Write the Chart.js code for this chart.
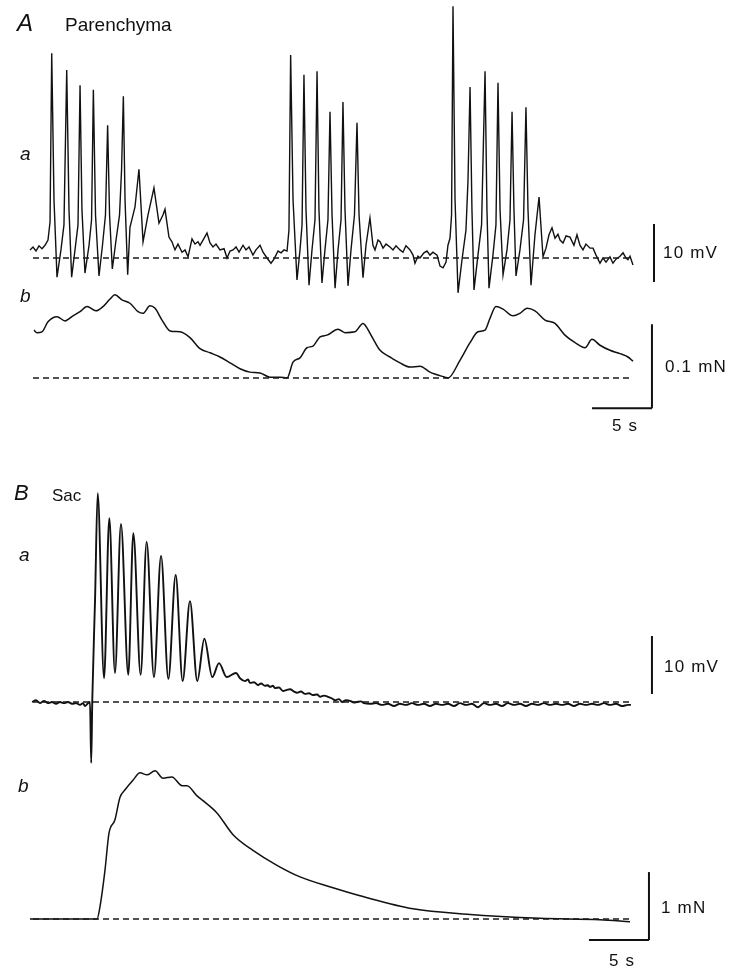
<!DOCTYPE html>
<html>
<head>
<meta charset="utf-8">
<script src="https://cdn.jsdelivr.net/npm/chart.js@4.4.1/dist/chart.umd.min.js"></script>
<style>
  html, body { margin: 0; padding: 0; background: #fff; }
  #wrap { position: relative; width: 737px; height: 977px; overflow: hidden; }
  #fig { position: absolute; left: 0; top: 0; }
  .lbl { position: absolute; font-family: "Liberation Sans", Arial, Helvetica, sans-serif;
         line-height: 1; white-space: nowrap; color: #111; }
  .it { font-style: italic; }
  .unit { font-size: 16px; letter-spacing: 1.2px; }
</style>
</head>
<body>
<div id="wrap">
  <canvas id="fig" width="737" height="977"></canvas>
  <div class="lbl it" style="left:17px;top:11px;font-size:24px">A</div>
  <div class="lbl" style="left:65px;top:15px;font-size:19px">Parenchyma</div>
  <div class="lbl it" style="left:20px;top:144px;font-size:19px">a</div>
  <div class="lbl it" style="left:20px;top:286px;font-size:19px">b</div>
  <div class="lbl unit" style="left:663px;top:244px;font-size:17px">10 mV</div>
  <div class="lbl unit" style="left:665px;top:358px;font-size:17px">0.1 mN</div>
  <div class="lbl unit" style="left:612px;top:417px;font-size:17px">5 s</div>
  <div class="lbl it" style="left:14px;top:482px;font-size:22px">B</div>
  <div class="lbl" style="left:52px;top:487px;font-size:17px">Sac</div>
  <div class="lbl it" style="left:19px;top:545px;font-size:19px">a</div>
  <div class="lbl it" style="left:18px;top:776px;font-size:19px">b</div>
  <div class="lbl unit" style="left:664px;top:658px;font-size:17px">10 mV</div>
  <div class="lbl unit" style="left:661px;top:899px;font-size:17px">1 mN</div>
  <div class="lbl unit" style="left:609px;top:952px;font-size:17px">5 s</div>
</div>
<script>
// Traces: [time (s), value]. Time 0 = start of the A traces.

// A a: parenchyma membrane potential (mV, relative to the dashed resting level)
const parenchymaVm = [
  [-0.25,1.4],[0,1.9],[0.25,1.2],[0.5,2.1],[0.75,1.6],[1.0,2.2],[1.25,3.1],[1.42,6.2],[1.56,35.3],[1.75,10],[2.0,-3.3],
  [2.33,1.4],[2.58,5.7],[2.81,32.4],[3.0,8.3],[3.22,-3.3],
  [3.5,1.4],[3.75,5.7],[3.92,29.8],[4.08,8.3],[4.33,-2.6],
  [4.67,2.2],[4.88,6.6],[5.03,29.0],[5.21,7.4],[5.5,-3.1],
  [5.79,2.2],[6.04,7.4],[6.22,22.9],[6.38,7.4],[6.61,-1.9],
  [6.92,3.1],[7.21,7.4],[7.38,15.2],[7.53,27.9],[7.67,10],[7.89,-2.9],
  [8.08,5.3],[8.5,8.8],[8.83,15.3],[9.17,2.8],[9.58,7.4],[10.08,12.1],[10.5,6.0],[10.83,7.4],[11,8.4],[11.33,3.6],
  [11.58,2.8],[11.83,1.4],[12.08,2.4],[12.42,1.0],[12.67,1.4],[12.92,0.2],[13.08,1.7],[13.25,3.3],[13.5,2.4],[13.75,2.8],
  [13.92,2.2],[14.25,3.4],[14.5,4.3],[14.75,2.6],[15,1.9],[15.25,2.4],[15.58,1.4],[15.92,1.6],[16.17,0],[16.42,1.2],
  [16.67,1.4],[16.92,1.9],[17.17,1.0],[17.5,2.2],[17.75,1.4],[18.0,1.9],[18.33,0.5],[18.58,1.4],[18.92,2.2],[19.17,1.0],
  [19.5,0],[19.83,-0.9],[20.08,-0.2],[20.42,1.2],[20.67,0.9],[20.92,1.4],[21.17,1.2],
  [21.33,4.8],[21.47,35],[21.67,10],[22,-3.8],
  [22.25,1.4],[22.42,5.7],[22.58,31.6],[22.75,8.3],[23,-4.7],
  [23.25,1.4],[23.5,6.6],[23.67,32.2],[23.83,8.3],[24.08,-4.3],
  [24.33,1.4],[24.58,6.6],[24.75,25.2],[24.92,7.4],[25.17,-5.2],
  [25.42,1.4],[25.67,6.6],[25.83,26.9],[26,8.3],[26.25,-4.8],
  [26.5,1.4],[26.79,7.4],[27,23.3],[27.17,7.4],[27.5,-3.4],
  [27.75,2.2],[28.08,6.9],[28.33,2.2],[28.5,1.4],[28.75,3.1],[28.92,2.8],[29.17,1.7],[29.42,2.4],[29.75,1.9],[30,1.4],
  [30.25,2.1],[30.58,1.4],[30.83,1.0],[31.08,2.1],[31.42,1.4],[31.67,0.5],[31.83,-0.9],[32.08,0.3],[32.25,0],[32.58,0.9],
  [32.83,1.2],[33.08,0.5],[33.33,1.0],[33.67,0.5],[33.92,-1.4],[34.17,-1.7],[34.42,-0.7],[34.58,2.2],[34.75,3.4],[34.88,7.4],
  [35,43.4],[35.17,10],[35.42,-6.0],
  [35.75,-0.3],[36.08,4.8],[36.25,13.4],[36.42,29.5],[36.58,8.3],[36.75,-5.5],
  [37.08,0.5],[37.38,5.7],[37.67,32.2],[37.83,8.3],[38,-5.2],
  [38.33,0.5],[38.58,5.7],[38.75,30.2],[38.92,8.3],[39.17,-2.9],
  [39.5,1.4],[39.75,6.6],[39.92,25.2],[40.08,8.3],[40.25,-3.1],
  [40.58,1.4],[40.88,6.6],[41.08,26.0],[41.25,8.3],[41.5,-4.7],
  [41.83,4.0],[42.17,10.5],[42.5,0.2],[42.75,1.7],[43,4.0],[43.25,5.2],[43.5,3.4],[43.75,4.1],[43.92,3.1],[44.17,2.6],
  [44.42,3.8],[44.75,3.6],[45.08,2.2],[45.33,4.0],[45.58,2.2],[45.83,1.4],[46.08,2.4],[46.42,1.7],[46.67,1.7],[46.92,0.5],
  [47.25,-0.9],[47.5,0],[47.75,-0.7],[48.08,0.2],[48.33,-0.9],[48.58,-0.2],[48.92,0.3],[49.17,0.9],[49.42,0],[49.58,-0.3],
  [49.75,0.3],[50,-1.2],
];

// A b: parenchyma tension (mN)
const parenchymaForce = [
  [0.08,0.057],[0.33,0.054],[0.75,0.055],[1.25,0.067],[2,0.073],[2.67,0.068],[3.33,0.074],[3.92,0.079],[4.5,0.085],
  [5.25,0.080],[5.83,0.085],[6.42,0.094],[6.83,0.099],[7.42,0.093],[8.08,0.089],[8.75,0.079],[9.17,0.077],[9.75,0.086],
  [10.17,0.083],[10.75,0.069],[11.42,0.056],[12.25,0.055],[13.08,0.048],[13.92,0.035],[14.75,0.030],[15.58,0.025],
  [16.42,0.018],[17.25,0.011],[18.08,0.007],[18.92,0.006],[19.75,0.001],[20.58,0.001],[21.17,0],[21.67,0.019],
  [22.25,0.024],[22.83,0.036],[23.33,0.038],[23.92,0.049],[24.5,0.051],[25.42,0.058],[26,0.054],[26.83,0.055],
  [27.5,0.065],[27.67,0.063],[28.25,0.049],[28.92,0.033],[29.75,0.025],[30.58,0.018],[31.42,0.013],[32.25,0.014],
  [33.08,0.007],[34.33,0.001],[34.58,0],[35.58,0.021],[36.42,0.042],[37.08,0.055],[37.67,0.057],[38.08,0.071],
  [38.58,0.085],[39.17,0.082],[40,0.074],[40.58,0.077],[41.17,0.083],[41.83,0.080],[42.67,0.069],[43.5,0.065],
  [44.33,0.051],[45.17,0.042],[46,0.036],[46.58,0.046],[47.25,0.039],[48.08,0.033],[48.92,0.029],[49.58,0.025],[50,0.020],
];

// B a: sac membrane potential (mV)
const sacVm = [
  [-0.08,0],[0.25,0.3],[0.58,-0.2],[0.92,0.2],[1.25,-0.2],[1.58,0],[1.92,-0.3],[2.25,0],[2.58,-0.2],[2.92,0],
  [3.25,-0.3],[3.58,-0.2],[3.92,-0.5],[4.17,-0.2],[4.33,-0.7],[4.58,-0.2],[4.75,0],[4.85,-10.5],[4.94,0.3],
  [5.17,17.6],[5.39,36.0],
  [5.92,4.1],[6.36,31.7],[6.83,5.0],[7.33,30.7],[7.94,4.7],[8.36,29.1],[8.97,4.7],[9.47,27.6],[10.08,4.3],[10.67,25.2],
  [11.28,4.0],[11.89,21.9],[12.47,3.6],[13.08,17.4],[13.69,3.6],[14.28,10.9],[14.94,4.3],[15.5,6.7],[16.14,4.3],[16.92,5.0],
  [17.25,4.1],[17.67,3.6],[17.92,3.9],[18.08,3.3],[18.42,3.4],[18.75,2.9],[19.0,3.2],[19.33,2.8],[19.58,2.9],[19.75,2.6],
  [20.0,2.8],[20.17,2.4],[20.5,2.5],[20.83,1.9],[21.17,2.1],[21.42,2.2],[21.75,1.8],[22,1.6],[22.33,1.8],[22.67,1.4],
  [23,1.5],[23.33,1.2],[23.67,1.3],[23.92,0.9],[24.25,1.1],[24.58,0.9],[24.92,0.6],[25.17,0.3],[25.5,0.5],[25.75,0],
  [26.08,0.3],[26.42,0.2],[26.75,-0.1],[27,0],[27.33,0.1],[27.58,-0.2],
  [28.08,-0.3],[28.58,-0.2],[29.08,-0.5],[29.58,-0.3],[30.08,-0.7],[30.58,-0.3],[31.08,-0.5],[31.58,-0.2],[32.08,-0.5],
  [32.58,-0.3],[33.08,-0.7],[33.58,-0.3],[34.08,-0.5],[34.58,-0.3],[35.08,-0.7],[35.58,-0.2],[36.08,-0.5],[36.58,-0.3],
  [37.08,-0.9],[37.58,-0.2],[38.08,-0.5],[38.58,-0.3],[39.08,-0.7],[39.58,-0.2],[40.08,-0.5],[40.58,-0.3],[41.08,-0.7],
  [41.58,-0.3],[42.08,-0.5],[42.58,-0.2],[43.08,-0.5],[43.58,-0.3],[44.08,-0.5],[44.58,-0.3],[45.08,-0.7],[45.58,-0.3],
  [46.08,-0.5],[46.58,-0.3],[47.08,-0.5],[47.58,-0.2],[48.08,-0.5],[48.58,-0.3],[49.08,-0.7],[49.58,-0.5],[49.83,-0.5],
];

// B b: sac tension (mN)
const sacForce = [
  [-0.25,0],[2.5,0],[5.0,0],[5.33,0],[5.58,0.18],[6.0,0.72],[6.33,1.26],[6.83,1.46],[7.25,1.79],[7.67,1.90],[8.33,2.04],
  [8.92,2.15],[9.5,2.12],[10.17,2.18],[10.83,2.07],[11.58,2.09],[12.42,1.96],[12.83,1.96],[13.67,1.81],[14.17,1.74],
  [15.33,1.56],[16.67,1.24],[18.33,1.01],[20.33,0.79],[22.25,0.62],[25,0.46],[27.5,0.33],[31.67,0.15],[36.17,0.07],
  [42.25,0.01],[47.25,-0.01],[49.75,-0.04],
];

// dashed resting / zero levels span the recording
const baselineSpan = [0, 50];

// calibration bars: size and where they sit (time s, value)
const calA_mV = 10, calA_mN = 0.1, calB_mV = 10, calB_mN = 1, calTime = 5;
const calA_mV_at = [51.75, -4.14];
const calA_mN_at = [51.58, -0.036];
const calB_mV_at = [51.58, 1.38];
const calB_mN_at = [51.33, -0.31];

// page mapping: trace start at 33 px, 12 px per second
const PX_LEFT = 33, PX_PER_S = 12, W = 737, H = 977;
function yRange(baselinePx, pxPerUnit) {
  return { min: -(H - baselinePx) / pxPerUnit, max: baselinePx / pxPerUnit };
}
const axes = {
  yAa: yRange(258, 5.8),
  yAb: yRange(378, 840),
  yBa: yRange(702, 5.8),
  yBb: yRange(919, 68),
};

const pts = (arr) => arr.map(([x, y]) => ({ x, y }));
const INK = "#111";

function trace(data, axis, width, smooth) {
  return {
    data: pts(data), yAxisID: axis, showLine: true, borderColor: INK, borderWidth: width,
    pointRadius: 0, fill: false, tension: 0,
    cubicInterpolationMode: smooth ? "monotone" : "default",
  };
}
function dashed(axis) {
  return {
    data: baselineSpan.map((x) => ({ x, y: 0 })), yAxisID: axis, showLine: true,
    borderColor: "#1a1a1a", borderWidth: 1.3, borderDash: [6, 4], pointRadius: 0,
  };
}
function vBar([x, y0], len, axis) {
  return { data: [{ x, y: y0 }, { x, y: y0 + len }], yAxisID: axis, showLine: true,
    borderColor: INK, borderWidth: 2, pointRadius: 0 };
}
function hBar([x1, y], len, axis) {
  return { data: [{ x: x1 - len, y }, { x: x1, y }], yAxisID: axis, showLine: true,
    borderColor: INK, borderWidth: 2, pointRadius: 0 };
}

const hidden = (r) => ({ type: "linear", display: false, min: r.min, max: r.max });

new Chart(document.getElementById("fig"), {
  type: "scatter",
  data: {
    datasets: [
      dashed("yAa"), dashed("yAb"), dashed("yBa"), dashed("yBb"),
      trace(parenchymaVm, "yAa", 1.4, false),
      trace(parenchymaForce, "yAb", 1.5, true),
      trace(sacVm, "yBa", 1.9, true),
      trace(sacForce, "yBb", 1.5, true),
      vBar(calA_mV_at, calA_mV, "yAa"),
      vBar(calA_mN_at, calA_mN, "yAb"),
      hBar(calA_mN_at, calTime, "yAb"),
      vBar(calB_mV_at, calB_mV, "yBa"),
      vBar(calB_mN_at, calB_mN, "yBb"),
      hBar(calB_mN_at, calTime, "yBb"),
    ],
  },
  options: {
    responsive: false,
    animation: false,
    events: [],
    layout: { padding: 0 },
    plugins: { legend: { display: false }, tooltip: { enabled: false } },
    scales: {
      x: { type: "linear", display: false, min: -PX_LEFT / PX_PER_S, max: (W - PX_LEFT) / PX_PER_S },
      yAa: hidden(axes.yAa),
      yAb: hidden(axes.yAb),
      yBa: hidden(axes.yBa),
      yBb: hidden(axes.yBb),
    },
  },
});
</script>
</body>
</html>
